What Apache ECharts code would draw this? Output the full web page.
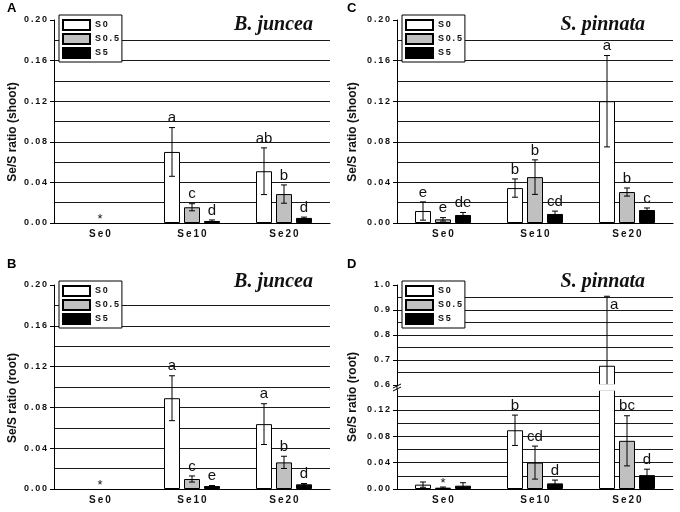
<html>
<head>
<meta charset="utf-8">
<script src="https://cdn.jsdelivr.net/npm/echarts@6/dist/echarts.min.js"></script>
<style>
    *{box-sizing: border-box;}
    body,html{margin:0;padding:0;background:#fff;}
    #chart{width:680px;height:512px;}
</style>
</head>
<body>
<div id="chart"></div>
<script>
var categories = ['Se0', 'Se10', 'Se20'];
var seriesNames = ['S0', 'S0.5', 'S5'];
var yTicksMain = [0, 0.04, 0.08, 0.12, 0.16, 0.20];
var yTicksRootLow = [0, 0.04, 0.08, 0.12];
var yTicksRootHigh = [0.6, 0.7, 0.8, 0.9, 1.0];

// A - B. juncea, shoot (null = nothing measured)
var aS0 = [null, 0.070, 0.051];
var aS05 = [null, 0.0155, 0.0285];
var aS5 = [null, 0.002, 0.005];
var aErrS0 = [0, 0.024, 0.023];
var aErrS05 = [0, 0.0035, 0.009];
var aErrS5 = [0, 0.001, 0.0008];
var aLblS0 = ['', 'a', 'ab'];
var aLblS05 = ['*', 'c', 'b'];
var aLblS5 = ['', 'd', 'd'];

// B - B. juncea, root
var bS0 = [null, 0.089, 0.0636];
var bS05 = [null, 0.0098, 0.0261];
var bS5 = [null, 0.0029, 0.0046];
var bErrS0 = [0, 0.022, 0.020];
var bErrS05 = [0, 0.003, 0.006];
var bErrS5 = [0, 0.0005, 0.0008];
var bLblS0 = ['', 'a', 'a'];
var bLblS05 = ['*', 'c', 'b'];
var bLblS5 = ['', 'e', 'd'];

// C - S. pinnata, shoot
var cS0 = [0.0118, 0.0344, 0.120];
var cS05 = [0.0036, 0.0452, 0.0305];
var cS5 = [0.0079, 0.0089, 0.0128];
var cErrS0 = [0.009, 0.009, 0.045];
var cErrS05 = [0.0017, 0.017, 0.004];
var cErrS5 = [0.0025, 0.0028, 0.002];
var cLblS0 = ['e', 'b', 'a'];
var cLblS05 = ['e', 'b', 'b'];
var cLblS5 = ['de', 'cd', 'c'];

// D - S. pinnata, root (broken axis)
var dS0 = [0.0066, 0.089, 0.677];
var dS05 = [0.002, 0.040, 0.073];
var dS5 = [0.005, 0.0085, 0.021];
var dErrS0 = [0.004, 0.023, 0.278];
var dErrS05 = [0.001, 0.025, 0.038];
var dErrS5 = [0.0045, 0.005, 0.009];
var dLblS0 = ['', 'b', 'a'];
var dLblS05 = ['*', 'cd', 'bc'];
var dLblS5 = ['', 'd', 'd'];

var BAR_W = 16, BAR_SP = 4;
var SANS = 'Liberation Sans, Arial, sans-serif';
var barStyles = [
    {color: '#ffffff', borderColor: '#000', borderWidth: 1},
    {color: '#c0c0c0', borderColor: '#000', borderWidth: 1},
    {color: '#000000', borderColor: '#000', borderWidth: 1}
];

function sp(s){
    return String(s).split('').join('\u2009');
}

var chart = echarts.init(document.getElementById('chart'));

var grids = [
    {left: 54, right: 350, top: 20, bottom: 289},   // A
    {left: 397, right: 7, top: 20, bottom: 289},    // C
    {left: 54, right: 350, top: 285, bottom: 23},   // B
    {left: 397, right: 7, top: 285, bottom: 127},   // D upper
    {left: 397, right: 7, top: 390, bottom: 23}     // D lower
];

function xAxisFor(gi, show){
    return {
        type: 'category', gridIndex: gi, data: categories, show: show,
        axisLine: {lineStyle: {color: '#000', width: 1}},
        axisTick: {show: false},
        axisLabel: {
            margin: 6, color: '#111', fontSize: 10, fontWeight: 'bold', fontFamily: SANS,
            formatter: function(v){ return sp(v); }
        }
    };
}

// axis carrying the line, ticks and labels
function yAxisFor(gi, min, max, ticks, digits){
    return {
        type: 'value', gridIndex: gi, min: min, max: max, position: 'left',
        axisLine: {show: true, lineStyle: {color: '#000', width: 1}},
        axisTick: {show: true, length: 4, customValues: ticks, lineStyle: {color: '#000'}},
        axisLabel: {
            customValues: ticks, margin: 7, color: '#111', fontSize: 9, fontWeight: 'bold', fontFamily: SANS,
            formatter: function(v){ return sp(Number(v).toFixed(digits)); }
        },
        splitLine: {show: false}
    };
}

// second axis in the same grid, only for the finer horizontal grid lines
function gridLineAxisFor(gi, min, max, interval){
    return {
        type: 'value', gridIndex: gi, min: min, max: max, interval: interval, position: 'right',
        axisLine: {show: false}, axisTick: {show: false}, axisLabel: {show: false},
        splitLine: {show: true, showMinLine: false, showMaxLine: false, lineStyle: {color: '#1a1a1a', width: 1.2}}
    };
}

var xAxes = [xAxisFor(0, true), xAxisFor(1, true), xAxisFor(2, true), xAxisFor(3, false), xAxisFor(4, true)];
var yAxes = [
    yAxisFor(0, 0, 0.2, yTicksMain, 2),
    yAxisFor(1, 0, 0.2, yTicksMain, 2),
    yAxisFor(2, 0, 0.2, yTicksMain, 2),
    yAxisFor(3, 0.6, 1.0, yTicksRootHigh, 1),
    yAxisFor(4, 0, 0.15, yTicksRootLow, 2),
    gridLineAxisFor(0, 0, 0.2, 0.02),
    gridLineAxisFor(1, 0, 0.2, 0.02),
    gridLineAxisFor(2, 0, 0.2, 0.02),
    gridLineAxisFor(3, 0.6, 1.0, 0.05),
    gridLineAxisFor(4, 0, 0.15, 0.02)
];

var series = [];

function addPanel(gi, vals, errs, lbls){
    for (var k = 0; k < 3; k++) {
        series.push({
            type: 'bar', name: seriesNames[k], xAxisIndex: gi, yAxisIndex: gi,
            data: vals[k].map(function(v){ return v === null ? '-' : v; }),
            barWidth: BAR_W, barGap: '25%',
            itemStyle: barStyles[k], silent: true, clip: true
        });
    }
    var items = [];
    for (var k2 = 0; k2 < 3; k2++) {
        for (var c = 0; c < categories.length; c++) {
            items.push([c, vals[k2][c] || 0, errs[k2][c], k2, lbls[k2][c]]);
        }
    }
    series.push({
        type: 'custom', xAxisIndex: gi, yAxisIndex: gi, clip: true, silent: true, z: 5,
        data: items.map(function(it){ return [it[0], it[1], it[2], it[3]]; }),
        encode: {x: 0, y: 1},
        renderItem: function(params, api){
            var it = items[params.dataIndex];
            var val = it[1], err = it[2], k = it[3], lbl = it[4];
            var rect = params.coordSys;
            var base = api.coord([it[0], val]);
            if (base[1] < rect.y - 1 || base[1] > rect.y + rect.height + 1) return null;
            var x = base[0] + (k - 1) * (BAR_W + BAR_SP);
            var yTop = api.coord([it[0], val + err])[1];
            var yBot = api.coord([it[0], val - err])[1];
            var children = [];
            var ls = {stroke: '#000', lineWidth: 1};
            if (err > 0) {
                children.push({type: 'line', shape: {x1: x, y1: yTop, x2: x, y2: yBot}, style: ls});
                children.push({type: 'line', shape: {x1: x - 3, y1: yTop, x2: x + 3, y2: yTop}, style: ls});
                children.push({type: 'line', shape: {x1: x - 3, y1: yBot, x2: x + 3, y2: yBot}, style: ls});
            }
            if (lbl) {
                var roomAbove = yTop - rect.y;
                var star = lbl === '*';
                var ts = {
                    text: lbl, fill: '#111',
                    font: (star ? '13px ' : '15px ') + SANS
                };
                if (roomAbove < 16) {
                    ts.x = x + 3; ts.y = yTop + 1; ts.align = 'left'; ts.verticalAlign = 'top';
                } else {
                    ts.x = x; ts.y = yTop + (star ? 3 : -2); ts.align = 'center'; ts.verticalAlign = 'bottom';
                }
                children.push({type: 'text', style: ts});
            }
            return {type: 'group', children: children};
        }
    });
}

addPanel(0, [aS0, aS05, aS5], [aErrS0, aErrS05, aErrS5], [aLblS0, aLblS05, aLblS5]);
addPanel(1, [cS0, cS05, cS5], [cErrS0, cErrS05, cErrS5], [cLblS0, cLblS05, cLblS5]);
addPanel(2, [bS0, bS05, bS5], [bErrS0, bErrS05, bErrS5], [bLblS0, bLblS05, bLblS5]);
addPanel(3, [dS0, dS05, dS5], [dErrS0, dErrS05, dErrS5], [dLblS0, dLblS05, dLblS5]);
addPanel(4, [dS0, dS05, dS5], [dErrS0, dErrS05, dErrS5], [dLblS0, dLblS05, dLblS5]);

function legendAt(left, top){
    return {
        data: seriesNames, orient: 'vertical', left: left, top: top,
        padding: [4, 3, 3, 3], itemWidth: 27, itemHeight: 10, itemGap: 2,
        backgroundColor: '#fff', borderColor: '#000', borderWidth: 1, borderRadius: 0,
        icon: 'rect', selectedMode: false, z: 10,
        textStyle: {fontSize: 9, fontWeight: 'bold', fontFamily: SANS, color: '#111'},
        formatter: function(n){ return sp(n); }
    };
}

function letterTitle(t, left, top){
    return {text: t, left: left, top: top, padding: 0,
        textStyle: {fontSize: 13, fontWeight: 'bold', fontFamily: SANS, color: '#000'}};
}
function speciesTitle(t, right, top){
    return {text: t, right: right, top: top, padding: 0,
        textStyle: {fontSize: 20, fontWeight: 'bold', fontStyle: 'italic', fontFamily: 'Liberation Serif, Times New Roman, serif', color: '#111'}};
}
function yName(t, x, y){
    return {type: 'text', x: x, y: y, rotation: Math.PI / 2, silent: true,
        style: {text: t, font: 'bold 12px ' + SANS, fill: '#111', align: 'center', verticalAlign: 'middle',
            textAlign: 'center', textVerticalAlign: 'middle'}};
}

// broken-axis decoration for panel D, placed from the grid layout above
var dAxisX = grids[3].left;
var dBreakTop = 512 - grids[3].bottom;
var dBreakBottom = grids[4].top;

var option = {
    animation: false,
    backgroundColor: '#fff',
    title: [
        letterTitle('A', 7, 2), letterTitle('C', 347, 2),
        letterTitle('B', 7, 258), letterTitle('D', 347, 258),
        speciesTitle('B. juncea', 367, 15), speciesTitle('S. pinnata', 35, 15),
        speciesTitle('B. juncea', 367, 272), speciesTitle('S. pinnata', 35, 272)
    ],
    legend: [legendAt(59, 15), legendAt(402, 15), legendAt(59, 281), legendAt(402, 281)],
    grid: grids,
    xAxis: xAxes,
    yAxis: yAxes,
    series: series,
    graphic: [
        yName('Se/S ratio (shoot)', 13, 132),
        yName('Se/S ratio (shoot)', 353, 132),
        yName('Se/S ratio (root)', 13, 398),
        yName('Se/S ratio (root)', 353, 397),
        {type: 'rect', silent: true, z: 50,
            shape: {x: dAxisX + 1, y: dBreakTop - 0.8, width: 680 - 7 - dAxisX, height: dBreakBottom - dBreakTop + 1.6},
            style: {fill: '#fff'}},
        {type: 'line', silent: true, z: 51, shape: {x1: dAxisX, y1: dBreakTop, x2: dAxisX, y2: dBreakBottom}, style: {stroke: '#000', lineWidth: 1}},
        {type: 'line', silent: true, z: 51, shape: {x1: dAxisX - 4, y1: dBreakTop + 3, x2: dAxisX + 4, y2: dBreakTop - 1}, style: {stroke: '#000', lineWidth: 1}},
        {type: 'line', silent: true, z: 51, shape: {x1: dAxisX - 4, y1: dBreakTop + 6, x2: dAxisX + 4, y2: dBreakTop + 2}, style: {stroke: '#000', lineWidth: 1}}
    ]
};

chart.setOption(option);
</script>
</body>
</html>
